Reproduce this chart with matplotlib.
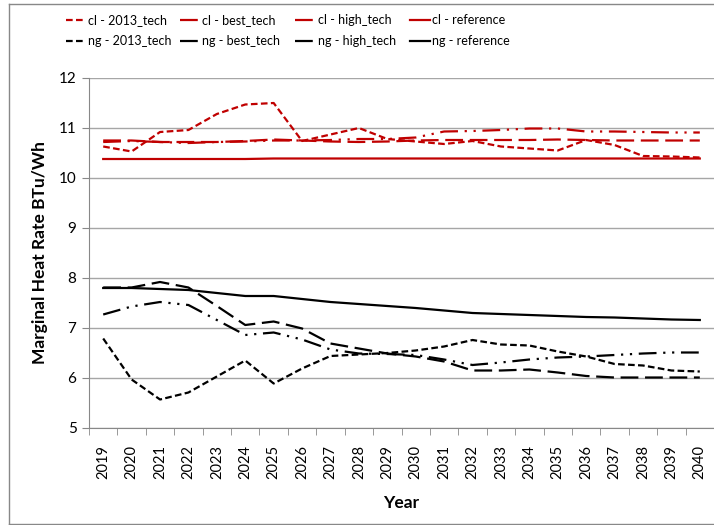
import numpy as np
import matplotlib
matplotlib.use("Agg")
import matplotlib.pyplot as plt
from matplotlib.lines import Line2D

plt.rcParams['font.family'] = ['Lato', 'DejaVu Sans']

# Data
years = [str(y) for y in range(2019, 2041)]

cl_2013 = [10.63, 10.53, 10.92, 10.96, 11.28, 11.47, 11.50, 10.74, 10.87, 11.00, 10.78,
           10.73, 10.68, 10.74, 10.63, 10.59, 10.55, 10.76, 10.66, 10.44, 10.43, 10.41]
cl_best = [10.75, 10.75, 10.72, 10.72, 10.72, 10.74, 10.77, 10.75, 10.73, 10.72, 10.73,
           10.75, 10.76, 10.76, 10.76, 10.76, 10.77, 10.76, 10.75, 10.75, 10.75, 10.75]
cl_high = [10.72, 10.74, 10.72, 10.70, 10.72, 10.73, 10.75, 10.75, 10.76, 10.78, 10.78,
           10.81, 10.93, 10.94, 10.96, 10.99, 10.99, 10.93, 10.93, 10.92, 10.91, 10.91]
cl_ref = [10.38, 10.38, 10.38, 10.38, 10.38, 10.38, 10.39, 10.39, 10.39, 10.39, 10.39,
          10.39, 10.39, 10.39, 10.39, 10.39, 10.39, 10.39, 10.39, 10.39, 10.39, 10.39]

ng_2013 = [6.79, 5.97, 5.57, 5.71, 6.03, 6.35, 5.89, 6.19, 6.44, 6.47, 6.50,
           6.55, 6.63, 6.76, 6.67, 6.65, 6.53, 6.43, 6.28, 6.25, 6.15, 6.13]
ng_best = [7.81, 7.81, 7.92, 7.81, 7.44, 7.06, 7.13, 6.99, 6.69, 6.59, 6.49,
           6.43, 6.33, 6.15, 6.15, 6.17, 6.11, 6.04, 6.01, 6.01, 6.01, 6.01]
ng_high = [7.27, 7.43, 7.52, 7.46, 7.16, 6.86, 6.91, 6.77, 6.57, 6.49, 6.48,
           6.46, 6.37, 6.26, 6.31, 6.37, 6.41, 6.43, 6.46, 6.49, 6.51, 6.51]
ng_ref = [7.80, 7.80, 7.78, 7.76, 7.70, 7.64, 7.64, 7.58, 7.52, 7.48, 7.44,
          7.40, 7.35, 7.30, 7.28, 7.26, 7.24, 7.22, 7.21, 7.19, 7.17, 7.16]

red = '#C00000'
blk = '#000000'
sys_dash = (0, (3, 1.5))
lg_dash = (0, (8, 3))
lg_dash_dot_dot = (0, (8, 3, 1, 3, 1, 3))

fig = plt.figure(figsize=(7.14, 5.25), dpi=100)
ax = fig.add_axes([89/714, 1-428/525, 1-89/714, 350/525])

x = np.arange(len(years))
lw = 1.6
series = [
    ("cl - 2013_tech", cl_2013, red, sys_dash),
    ("cl - best_tech", cl_best, red, lg_dash),
    ("cl - high_tech", cl_high, red, lg_dash_dot_dot),
    ("cl - reference", cl_ref, red, '-'),
    ("ng - 2013_tech", ng_2013, blk, sys_dash),
    ("ng - best_tech", ng_best, blk, lg_dash),
    ("ng - high_tech", ng_high, blk, lg_dash_dot_dot),
    ("ng - reference", ng_ref, blk, '-'),
]
lines = []
for name, vals, c, ls in series:
    ln, = ax.plot(x, vals, color=c, linestyle=ls, linewidth=lw, label=name)
    lines.append(ln)

ax.set_xlim(-0.5, len(years) - 0.5)
ax.set_ylim(5, 12)
ax.set_yticks(range(5, 13))
ax.set_xticks(x)
ax.set_xticklabels(years, rotation=90, fontsize=10.5)
ax.set_xticks(np.arange(-0.5, len(years), 1), minor=True)
ax.tick_params(axis='x', which='major', length=0, pad=12)
ax.tick_params(axis='x', which='minor', length=5, color='#888888', direction='out')
ax.tick_params(axis='y', labelsize=11, length=5, color='#888888', pad=4)
ax.grid(axis='y', color='#a6a6a6', linewidth=1)
ax.set_axisbelow(True)
for s in ['top', 'right']:
    ax.spines[s].set_visible(False)
ax.spines['left'].set_color('#888888')
ax.spines['bottom'].set_color('#888888')

ax.set_ylabel("Marginal Heat Rate BTu/Wh", fontsize=12.5, fontweight='bold', labelpad=8)
ax.set_xlabel("Year", fontsize=12.5, fontweight='bold', labelpad=12)

# legend: one column per technology, cl on top row, ng below
col_x = [66, 180, 295, 410]
for i, cx in enumerate(col_x):
    fig.legend([lines[i], lines[i + 4]], [series[i][0], series[i + 4][0]],
               loc='upper left', bbox_to_anchor=(cx/714, 1-14/525),
               frameon=False, fontsize=9, handlelength=1.6, handletextpad=0.2,
               labelspacing=0.75, borderpad=0, borderaxespad=0)

# chart area border
fig.add_artist(Line2D([9/714, 9/714], [1-4/525, 1-524/525], color='#888888', lw=1))
fig.add_artist(Line2D([9/714, 1], [1-4/525, 1-4/525], color='#888888', lw=1))
fig.add_artist(Line2D([9/714, 1], [1-524/525, 1-524/525], color='#888888', lw=1))

fig.savefig("out.png", dpi=100)
